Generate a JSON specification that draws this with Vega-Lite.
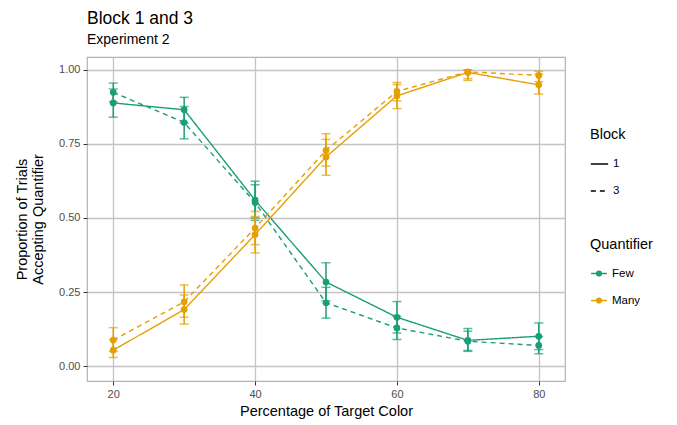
{
  "$schema": "https://vega.github.io/schema/vega-lite/v6.json",
  "width": 478,
  "height": 324,
  "autosize": {"type": "none"},
  "padding": {"left": 87, "top": 57, "right": 112, "bottom": 44},
  "background": "white",
  "title": {
    "text": "Block 1 and 3",
    "subtitle": "Experiment 2",
    "anchor": "start",
    "frame": "group",
    "font": "Liberation Sans",
    "fontSize": 17.5,
    "fontWeight": "normal",
    "color": "black",
    "subtitleFont": "Liberation Sans",
    "subtitleFontSize": 14,
    "subtitleColor": "black",
    "subtitlePadding": 6,
    "offset": 10
  },
  "config": {
    "font": "Liberation Sans",
    "view": {"stroke": "#b3b3b3", "strokeWidth": 1.2},
    "axis": {
      "gridColor": "#c4c4c4",
      "gridWidth": 1.3,
      "domain": false,
      "tickColor": "#333333",
      "tickSize": 4,
      "labelColor": "#4d4d4d",
      "labelFontSize": 11,
      "titleFontSize": 14.5,
      "titleFontWeight": "normal",
      "titleColor": "black"
    },
    "legend": {
      "titleFontSize": 14.5,
      "titleFontWeight": "normal",
      "labelFontSize": 11.5,
      "titleColor": "black",
      "labelColor": "black",
      "titlePadding": 12,
      "rowPadding": 12,
      "symbolOpacity": 1
    }
  },
  "data": {
    "values": [
      {"x": 20, "q": "Few", "block": "1", "p": 0.888, "lo": 0.840, "hi": 0.935},
      {"x": 30, "q": "Few", "block": "1", "p": 0.865, "lo": 0.820, "hi": 0.907},
      {"x": 40, "q": "Few", "block": "1", "p": 0.560, "lo": 0.500, "hi": 0.624},
      {"x": 50, "q": "Few", "block": "1", "p": 0.284, "lo": 0.220, "hi": 0.349},
      {"x": 60, "q": "Few", "block": "1", "p": 0.165, "lo": 0.112, "hi": 0.218},
      {"x": 70, "q": "Few", "block": "1", "p": 0.087, "lo": 0.050, "hi": 0.127},
      {"x": 80, "q": "Few", "block": "1", "p": 0.101, "lo": 0.056, "hi": 0.146},
      {"x": 20, "q": "Few", "block": "3", "p": 0.924, "lo": 0.892, "hi": 0.955},
      {"x": 30, "q": "Few", "block": "3", "p": 0.822, "lo": 0.767, "hi": 0.876},
      {"x": 40, "q": "Few", "block": "3", "p": 0.552, "lo": 0.492, "hi": 0.612},
      {"x": 50, "q": "Few", "block": "3", "p": 0.214, "lo": 0.162, "hi": 0.266},
      {"x": 60, "q": "Few", "block": "3", "p": 0.129, "lo": 0.090, "hi": 0.168},
      {"x": 70, "q": "Few", "block": "3", "p": 0.084, "lo": 0.053, "hi": 0.118},
      {"x": 80, "q": "Few", "block": "3", "p": 0.070, "lo": 0.042, "hi": 0.100},
      {"x": 20, "q": "Many", "block": "1", "p": 0.054, "lo": 0.029, "hi": 0.090},
      {"x": 30, "q": "Many", "block": "1", "p": 0.191, "lo": 0.142, "hi": 0.240},
      {"x": 40, "q": "Many", "block": "1", "p": 0.444, "lo": 0.382, "hi": 0.505},
      {"x": 50, "q": "Many", "block": "1", "p": 0.706, "lo": 0.644, "hi": 0.765},
      {"x": 60, "q": "Many", "block": "1", "p": 0.912, "lo": 0.869, "hi": 0.950},
      {"x": 70, "q": "Many", "block": "1", "p": 0.991, "lo": 0.970, "hi": 1.000},
      {"x": 80, "q": "Many", "block": "1", "p": 0.949, "lo": 0.918, "hi": 0.985},
      {"x": 20, "q": "Many", "block": "3", "p": 0.088, "lo": 0.050, "hi": 0.130},
      {"x": 30, "q": "Many", "block": "3", "p": 0.217, "lo": 0.165, "hi": 0.274},
      {"x": 40, "q": "Many", "block": "3", "p": 0.466, "lo": 0.410, "hi": 0.522},
      {"x": 50, "q": "Many", "block": "3", "p": 0.728, "lo": 0.675, "hi": 0.784},
      {"x": 60, "q": "Many", "block": "3", "p": 0.927, "lo": 0.895, "hi": 0.957},
      {"x": 70, "q": "Many", "block": "3", "p": 0.993, "lo": 0.964, "hi": 1.000},
      {"x": 80, "q": "Many", "block": "3", "p": 0.981, "lo": 0.960, "hi": 0.995}
    ]
  },
  "encoding": {
    "x": {
      "field": "x",
      "type": "quantitative",
      "scale": {"domain": [16.3, 83.7], "nice": false, "zero": false},
      "axis": {"values": [20, 40, 60, 80], "title": "Percentage of Target Color", "titlePadding": 5, "labelPadding": 3}
    },
    "color": {
      "field": "q",
      "type": "nominal",
      "scale": {"domain": ["Few", "Many"], "range": ["#1b9e77", "#e69f00"]},
      "legend": {
        "title": "Quantifier",
        "orient": "none",
        "legendX": 503,
        "legendY": 181,
        "symbolType": "M-1,0H-0.3A0.3,0.3 0 1,1 0.3,0A0.3,0.3 0 1,1 -0.3,0M0.3,0H1",
        "symbolSize": 250,
        "symbolStrokeWidth": 1.5
      }
    }
  },
  "layer": [
    {
      "mark": {"type": "line", "strokeWidth": 1.4},
      "encoding": {
        "y": {
          "field": "p",
          "type": "quantitative",
          "title": ["Proportion of Trials", "Accepting Quantifier"],
          "scale": {"domain": [-0.05, 1.043], "nice": false, "zero": false},
          "axis": {
            "values": [0, 0.25, 0.5, 0.75, 1],
            "format": ".2f",
            "titlePadding": 13,
            "labelPadding": 3
          }
        },
        "strokeDash": {
          "field": "block",
          "type": "nominal",
          "scale": {"domain": ["1", "3"], "range": [[1, 0], [5, 4]]},
          "legend": {
            "title": "Block",
            "orient": "none",
            "legendX": 503,
            "legendY": 71,
            "symbolType": "stroke",
            "symbolStrokeColor": "black",
            "symbolStrokeWidth": 1.5,
            "symbolSize": 300
          }
        },
        "detail": {"field": "q"}
      }
    },
    {
      "mark": {"type": "errorbar", "ticks": {"size": 9}, "thickness": 1.5},
      "encoding": {
        "y": {"field": "lo", "type": "quantitative", "title": ["Proportion of Trials", "Accepting Quantifier"]},
        "y2": {"field": "hi"}
      }
    },
    {
      "mark": {"type": "point", "filled": true, "opacity": 1, "size": 45, "shape": "circle"},
      "encoding": {
        "y": {"field": "p", "type": "quantitative", "title": ["Proportion of Trials", "Accepting Quantifier"]}
      }
    }
  ]
}
